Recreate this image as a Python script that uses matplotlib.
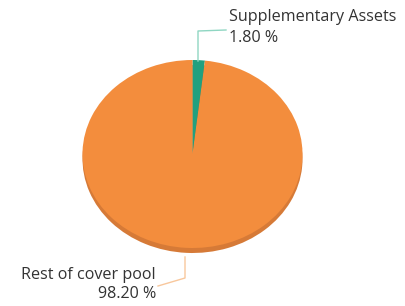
import matplotlib
matplotlib.use("Agg")
import matplotlib.pyplot as plt

labels = ["Supplementary Assets", "Rest of cover pool"]
values = [1.80, 98.20]
colors = ["#21A07F", "#F38D3D"]
side_colors = ["#1A8068", "#D67A37"]
line_colors = ["#8FD6C2", "#F8C79C"]

W, H = 405, 306
fig = plt.figure(figsize=(W / 100, H / 100), dpi=100)
fig.patch.set_facecolor("white")

cx, cy, rx, ry, depth = 192.5, 154, 110, 94, 5

def pie_axes(dy):
    left = (cx - rx) / W
    bottom = 1 - (cy + dy + ry) / H
    return fig.add_axes([left, bottom, 2 * rx / W, 2 * ry / H])

# side (3D depth)
ax_side = pie_axes(depth)
ax_side.pie(values, colors=side_colors, startangle=90, counterclock=False,
            wedgeprops=dict(linewidth=0))
ax_side.set_aspect("auto")
ax_side.set_xlim(-1, 1); ax_side.set_ylim(-1, 1)
ax_side.axis("off")

ax = pie_axes(0)
ax.pie(values, colors=colors, startangle=90, counterclock=False,
       wedgeprops=dict(linewidth=0))
ax.set_aspect("auto")
ax.set_xlim(-1, 1); ax.set_ylim(-1, 1)
ax.axis("off")

# overlay in pixel coordinates
ov = fig.add_axes([0, 0, 1, 1])
ov.set_xlim(0, W); ov.set_ylim(H, 0)
ov.axis("off")

font = "Open Sans"
fs = 11.6
ov.plot([198, 198, 226], [61, 31, 30], color=line_colors[0], lw=1)
ov.text(229, 17, labels[0], fontsize=fs, family=font, color="#333333", va="center", ha="left")
ov.text(229, 38, f"{values[0]:.2f} %", fontsize=fs, family=font, color="#333333", va="center", ha="left")

ov.plot([185, 185, 158], [257, 278, 286], color=line_colors[1], lw=1)
ov.text(156, 275, labels[1], fontsize=fs, family=font, color="#333333", va="center", ha="right")
ov.text(156, 294, f"{values[1]:.2f} %", fontsize=fs, family=font, color="#333333", va="center", ha="right")

fig.savefig("out.png", dpi=100)
